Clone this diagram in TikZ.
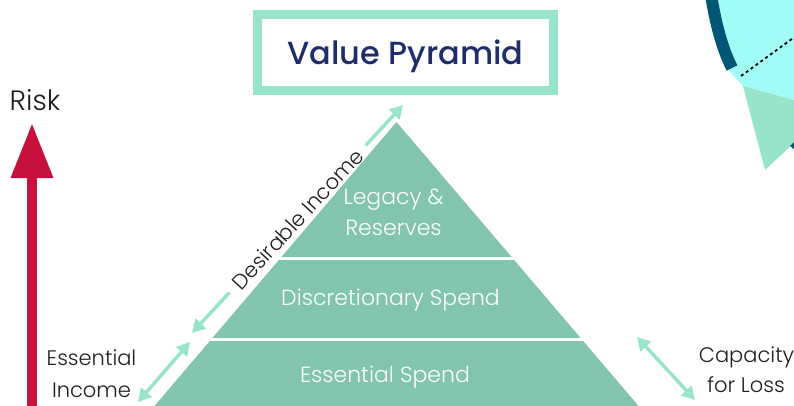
\documentclass[tikz,border=0pt]{standalone}
\usepackage{fontspec}
\setmainfont{Poppins}[UprightFont=* Light, BoldFont=* Medium]
\usetikzlibrary{arrows.meta,calc}

\definecolor{pyr}{RGB}{130,196,174}
\definecolor{mint}{RGB}{152,228,203}
\definecolor{navy}{RGB}{31,45,107}
\definecolor{riskred}{RGB}{200,16,60}
\definecolor{aqua}{RGB}{160,252,244}
\definecolor{deepteal}{RGB}{0,86,116}
\definecolor{ink}{RGB}{30,30,30}

\tikzset{
  mtip/.tip={Triangle[length=13pt,width=14pt]},
  lbl/.style={font=\fontsize{21}{30}\selectfont, anchor=base, inner sep=0pt, text=ink},
  lvl/.style={lbl, text=white, font=\fontsize{22}{30}\selectfont},
  twoway/.style={draw=mint, line width=3.5pt, mtip-mtip},
  oneway/.style={draw=mint, line width=3.5pt},
}

\begin{document}
\begin{tikzpicture}[x=1pt,y=-1pt]
\useasboundingbox (0,0) rectangle (794,405);
\clip (0,0) rectangle (794,405);

% corner of a pie chart, top right
\fill[aqua] (705,-5) .. controls (712,30) and (718,52) .. (730,72)
  -- (743,86) -- (800,101.6) -- (800,-5) -- cycle;
\draw[deepteal, line width=12pt] (711,-5) .. controls (716,25) and (722,48) .. (732,68);
\draw[black, line width=1.8pt, dash pattern=on 3pt off 3pt] (741,76) -- (800,33);
\fill[mint] (743,86) -- (800,101.6) -- (800,137.4) -- (765,170) -- cycle;
\fill[deepteal] (790,146) -- (795,141) -- (795,150) -- cycle;

% title
\node[draw=mint, line width=9pt, minimum width=296pt, minimum height=76pt,
      inner sep=0pt, text height=23pt, text depth=0pt, text=navy,
      font=\fontsize{32}{36}\selectfont\bfseries] (title) at (405.5,52.5) {Value Pyramid};

% risk axis
\coordinate (riskfoot) at (32,412);
\coordinate (risktip) at (32,123);
\draw[riskred, line width=10pt, -{Triangle[length=55pt,width=40pt]}] (riskfoot) -- (risktip);
\node[lbl, font=\fontsize{28}{30}\selectfont] (risk) at (35,110) {Risk};

% pyramid
\fill[pyr] (396.5,122) -- (650.5,420) -- (142.5,420) -- cycle;
\draw[white, line width=3pt] (277,258) -- (516,258);
\draw[white, line width=3pt] (208,339) -- (585,339);

\node[lvl] (legacy) at (393.5,204) {Legacy \&};
\node[lvl] (reserves) at (393.5,235) {Reserves};
\node[lvl] (disc) at (390.5,305) {Discretionary Spend};
\node[lvl] (ess) at (385,382) {Essential Spend};

% desirable income
\coordinate (dA) at (192,333);
\coordinate (dB) at (403,105);
\node[font=\fontsize{21}{30}\selectfont, text=ink, rotate=47.2, inner xsep=9pt, inner ysep=0pt]
  (desire) at ($(dA)!0.5!(dB)$) {Desirable Income};
\draw[oneway, mtip-] (dA) -- (desire.west);
\draw[oneway, -mtip] (desire.east) -- (dB);

% essential income
\coordinate (eA) at (138,402);
\coordinate (eB) at (190,342);
\draw[twoway] (eA) -- (eB);
\node[lbl] (essential) at (91.5,365) {Essential};
\node[lbl] (income) at (91.5,397) {Income};

% capacity for loss
\coordinate (cA) at (637,337);
\coordinate (cB) at (695,400);
\draw[twoway] (cA) -- (cB);
\node[lbl] (capacity) at (746.5,362) {Capacity};
\node[lbl] (forloss) at (746,392) {for Loss};
\end{tikzpicture}
\end{document}
